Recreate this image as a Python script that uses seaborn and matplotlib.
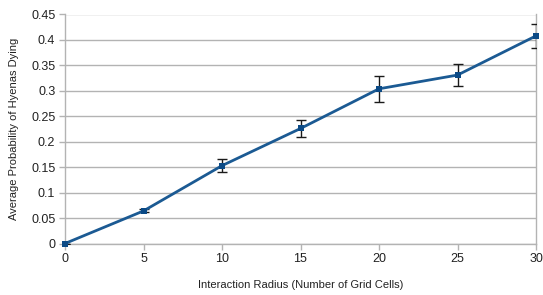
import matplotlib
matplotlib.use("Agg")
import matplotlib.pyplot as plt
import seaborn as sns
import pandas as pd

radius = [0, 5, 10, 15, 20, 25, 30]
prob = [0.0, 0.064, 0.153, 0.226, 0.304, 0.331, 0.408]
err = [0.0, 0.003, 0.013, 0.017, 0.025, 0.022, 0.024]
x_ticks = [0, 5, 10, 15, 20, 25, 30]
y_ticks = [0, 0.05, 0.1, 0.15, 0.2, 0.25, 0.3, 0.35, 0.4, 0.45]
y_tick_labels = ["0", "0.05", "0.1", "0.15", "0.2", "0.25", "0.3", "0.35", "0.4", "0.45"]

df = pd.DataFrame({"radius": radius, "prob": prob, "err": err})

sns.set_style("white")
plt.rcParams["font.family"] = ["Liberation Sans", "DejaVu Sans"]

fig = plt.figure(figsize=(5.43, 2.95), dpi=100)
ax = fig.add_axes([65 / 543, 1 - 243.5 / 295, (536 - 65) / 543, (243.5 - 14.5) / 295])

line_color = "#1b5a93"
ax.errorbar(df["radius"], df["prob"], yerr=df["err"], fmt="none", ecolor="#1a1a1a",
            elinewidth=1.0, capsize=3.5, capthick=1.0, zorder=3)
sns.lineplot(data=df, x="radius", y="prob", ax=ax, color=line_color, linewidth=2.0,
             marker="s", markersize=5, markeredgewidth=0, markerfacecolor="#0b4a86", zorder=4,
             clip_on=False)

ax.set_xlim(0, 30)
ax.set_ylim(0, 0.45)
ax.set_xticks(x_ticks)
ax.set_xticklabels([str(t) for t in x_ticks])
ax.set_yticks(y_ticks)
ax.set_yticklabels(y_tick_labels)
ax.grid(axis="y", color="#b3b3b3", linewidth=1.0)
ax.grid(axis="x", visible=False)
ax.set_axisbelow(True)

for side in ["left", "bottom", "right"]:
    ax.spines[side].set_visible(True)
    ax.spines[side].set_color("#b3b3b3")
    ax.spines[side].set_linewidth(1.0)
ax.spines["top"].set_visible(False)

ax.tick_params(axis="both", which="major", direction="out", length=4, width=1.0,
               color="#b3b3b3", labelsize=9, labelcolor="#222222", pad=3, bottom=True, left=True)

ax.set_xlabel("Interaction Radius (Number of Grid Cells)", fontsize=8, color="#222222", labelpad=11)
ax.set_ylabel("Average Probability of Hyenas Dying", fontsize=8, color="#222222", labelpad=9)

fig.savefig("out.png", dpi=100)
